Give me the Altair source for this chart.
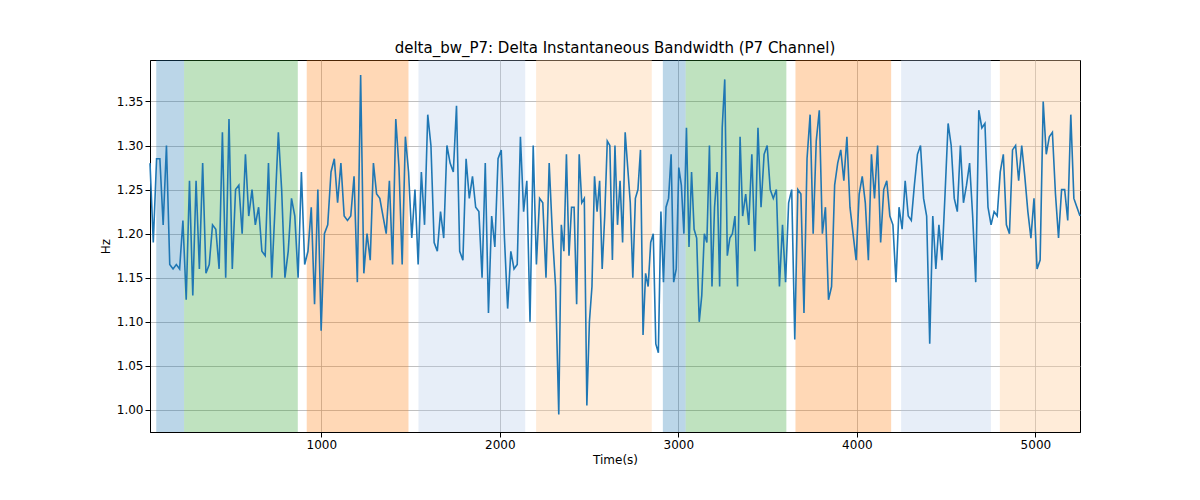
import numpy as np
import pandas as pd
import altair as alt

values = [1.28, 1.19, 1.285, 1.285, 1.21, 1.30, 1.165, 1.16, 1.165, 1.16, 1.215, 1.125, 1.26, 1.13, 1.26, 1.16, 1.28, 1.155, 1.165, 1.21, 1.205, 1.16, 1.315, 1.15, 1.33, 1.16, 1.25, 1.255, 1.20, 1.29, 1.22, 1.25, 1.21, 1.23, 1.18, 1.175, 1.28, 1.15, 1.23, 1.315, 1.25, 1.15, 1.18, 1.24, 1.22, 1.15, 1.27, 1.165, 1.18, 1.23, 1.12, 1.25, 1.09, 1.20, 1.21, 1.27, 1.285, 1.235, 1.28, 1.22, 1.215, 1.22, 1.265, 1.145, 1.38, 1.155, 1.20, 1.17, 1.28, 1.245, 1.24, 1.22, 1.20, 1.26, 1.165, 1.33, 1.275, 1.165, 1.31, 1.27, 1.195, 1.25, 1.165, 1.27, 1.21, 1.335, 1.30, 1.19, 1.18, 1.225, 1.195, 1.30, 1.28, 1.27, 1.345, 1.18, 1.17, 1.285, 1.24, 1.265, 1.23, 1.225, 1.15, 1.28, 1.11, 1.22, 1.185, 1.285, 1.295, 1.195, 1.115, 1.18, 1.16, 1.165, 1.31, 1.225, 1.26, 1.10, 1.30, 1.165, 1.24, 1.235, 1.15, 1.28, 1.20, 1.14, 0.995, 1.21, 1.18, 1.29, 1.175, 1.23, 1.23, 1.12, 1.29, 1.235, 1.24, 1.005, 1.10, 1.14, 1.265, 1.225, 1.26, 1.16, 1.22, 1.305, 1.30, 1.17, 1.30, 1.21, 1.26, 1.19, 1.315, 1.275, 1.235, 1.15, 1.24, 1.25, 1.295, 1.085, 1.155, 1.14, 1.19, 1.20, 1.075, 1.065, 1.225, 1.145, 1.23, 1.24, 1.29, 1.145, 1.16, 1.275, 1.255, 1.20, 1.32, 1.185, 1.27, 1.205, 1.195, 1.10, 1.13, 1.20, 1.19, 1.30, 1.14, 1.23, 1.27, 1.14, 1.32, 1.375, 1.175, 1.195, 1.20, 1.22, 1.14, 1.31, 1.22, 1.245, 1.21, 1.29, 1.18, 1.32, 1.23, 1.29, 1.30, 1.25, 1.24, 1.25, 1.14, 1.21, 1.145, 1.235, 1.25, 1.08, 1.25, 1.245, 1.11, 1.285, 1.335, 1.20, 1.305, 1.34, 1.20, 1.23, 1.125, 1.14, 1.255, 1.28, 1.295, 1.26, 1.31, 1.23, 1.20, 1.17, 1.245, 1.265, 1.235, 1.17, 1.29, 1.24, 1.30, 1.19, 1.25, 1.26, 1.22, 1.21, 1.145, 1.23, 1.205, 1.26, 1.22, 1.215, 1.255, 1.29, 1.30, 1.24, 1.22, 1.075, 1.22, 1.16, 1.21, 1.17, 1.245, 1.325, 1.30, 1.24, 1.225, 1.30, 1.235, 1.255, 1.28, 1.22, 1.145, 1.34, 1.32, 1.325, 1.23, 1.21, 1.225, 1.22, 1.27, 1.29, 1.21, 1.20, 1.295, 1.30, 1.26, 1.30, 1.265, 1.225, 1.195, 1.24, 1.16, 1.17, 1.35, 1.29, 1.31, 1.315, 1.245, 1.195, 1.25, 1.25, 1.215, 1.335, 1.24, 1.23, 1.22]
anchor_idx = [0, 64, 126, 198, len(values) - 1]
anchor_t = [40, 1220, 2330, 3360, 5250]
times = np.interp(np.arange(len(values)), anchor_idx, anchor_t)

span_start = [75, 231, 918, 1544, 2203, 2913, 3041, 3656, 4248, 4801]
span_end = [231, 868, 1488, 2142, 2851, 3041, 3605, 4192, 4751, 5250]
span_color = ['#1f77b4', '#2ca02c', '#ff7f0e', '#aec7e8', '#ffd0a0',
              '#1f77b4', '#2ca02c', '#ff7f0e', '#aec7e8', '#ffd0a0']
span_opacity = [0.3, 0.3, 0.3, 0.3, 0.4, 0.3, 0.3, 0.3, 0.3, 0.4]

df = pd.DataFrame({'t': times, 'v': values})
spans = pd.DataFrame({'x1': span_start, 'x2': span_end, 'c': span_color, 'o': span_opacity})

xs = alt.Scale(domain=[40, 5250], nice=False, zero=False)
ys = alt.Scale(domain=[0.975, 1.397], nice=False, zero=False)

rects = alt.Chart(spans).mark_rect().encode(
    x=alt.X('x1:Q', scale=xs, title='Time(s)'),
    x2='x2:Q',
    color=alt.Color('c:N', scale=None),
    opacity=alt.Opacity('o:Q', scale=None),
)

line = alt.Chart(df).mark_line(color='#1f77b4', strokeWidth=1.6).encode(
    x=alt.X('t:Q', scale=xs, title='Time(s)', axis=alt.Axis(values=[1000, 2000, 3000, 4000, 5000], format='d')),
    y=alt.Y('v:Q', scale=ys, title='Hz', axis=alt.Axis(values=[1.0, 1.05, 1.1, 1.15, 1.2, 1.25, 1.3, 1.35], format='.2f')),
)

chart = alt.layer(rects, line).properties(
    width=930, height=372,
    title=alt.Title('delta_bw_P7: Delta Instantaneous Bandwidth (P7 Channel)', fontSize=15, fontWeight='normal', font='DejaVu Sans'),
    autosize=alt.AutoSizeParams(type='none'),
    padding={'left': 142, 'top': 52, 'right': 112, 'bottom': 60},
).configure_axis(
    grid=True, gridColor='#b0b0b0', gridWidth=0.8, domainColor='black', tickColor='black',
    labelFont='DejaVu Sans', titleFont='DejaVu Sans', labelFontSize=12, titleFontSize=12,
    titleFontWeight='normal', labelColor='black', titleColor='black', zindex=1,
).configure_view(stroke='black')

chart.save("out.html", embed_options={"renderer": "svg", "actions": False})
